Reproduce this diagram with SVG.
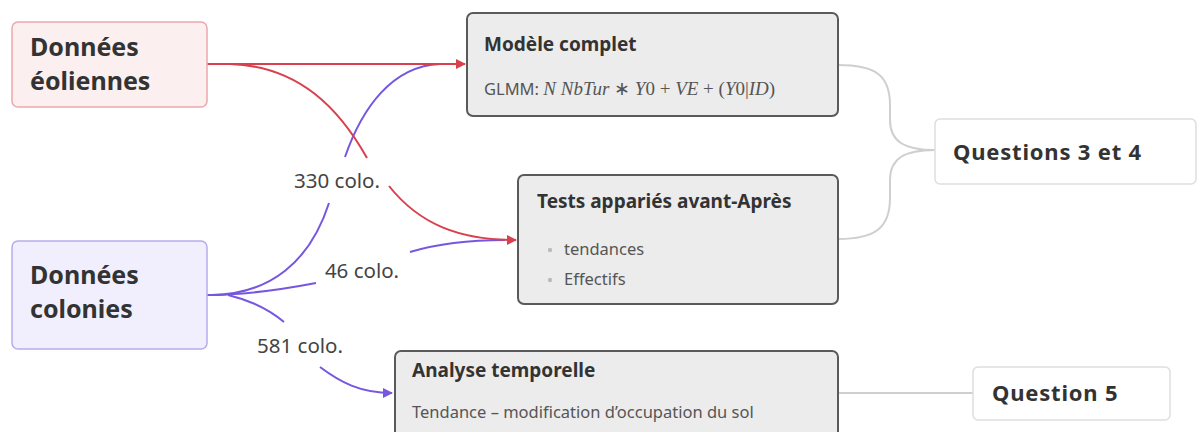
<svg xmlns="http://www.w3.org/2000/svg" width="1197" height="432" viewBox="0 0 1197 432">
<style>
.t{font-family:"Noto Sans","Open Sans",sans-serif;fill:#333}
.big{font-size:25px;font-weight:bold}
.ttl{font-size:19px;font-weight:bold}
.sub{font-size:16.5px;fill:#555}
.lbl{font-family:"Noto Sans","Open Sans",sans-serif;font-size:20.5px;fill:#444}
.m{font-family:"Liberation Serif",serif;font-size:19px;fill:#555}
.red{fill:none;stroke:#d9404e;stroke-width:2}
.pur{fill:none;stroke:#7657e0;stroke-width:2}
.gry{fill:none;stroke:#cfcfcf;stroke-width:2}
.proc{fill:#ececec;stroke:#5a5a5a;stroke-width:2}
.q{fill:#fff;stroke:#dedede;stroke-width:1.5}
.qt{font-size:22px;font-weight:bold;letter-spacing:0.8px}
</style>
<defs>
<marker id="ar" markerWidth="10" markerHeight="10" refX="9" refY="5" orient="auto" markerUnits="userSpaceOnUse"><path d="M0,0 L10,5 L0,10 z" fill="#d9404e"/></marker>
<marker id="ap" markerWidth="10" markerHeight="10" refX="9" refY="5" orient="auto" markerUnits="userSpaceOnUse"><path d="M0,0 L10,5 L0,10 z" fill="#7657e0"/></marker>
</defs>
<rect width="1197" height="432" fill="#fff"/>
<g id="connectors">
<path class="gry" d="M838,65 C875,65 890,75 890,105 L890,120 C890,142 905,150 935,150"/>
<path class="gry" d="M838,239 C875,239 890,228 890,198 L890,180 C890,158 905,150 935,150"/>
<path class="gry" d="M838,393 L973,393"/>
<path class="pur" d="M345,157 C362,108 392,66 440,64 L462,64"/>
<path class="pur" d="M329,203 C310,262 270,294 212,295"/>
<path class="pur" d="M207,295 C250,295 290,288 316,283"/>
<path class="pur" d="M410,252 C440,243 470,240 505,240"/>
<path class="pur" d="M228,295 C253,301 271,311 284,322"/>
<path class="pur" d="M320,367 C340,382 360,393 392,393" marker-end="url(#ap)"/>
<path class="red" d="M207,64 L465,64" marker-end="url(#ar)"/>
<path class="red" d="M230,64 C300,66 340,110 367,158"/>
<path class="red" d="M389,186 C420,225 460,240 516,240" marker-end="url(#ar)"/>
<text class="lbl" x="337" y="188" text-anchor="middle">330 colo.</text>
<text class="lbl" x="362" y="278" text-anchor="middle">46 colo.</text>
<text class="lbl" x="300" y="353" text-anchor="middle">581 colo.</text>
</g>
<g id="eoliennes">
<rect x="12" y="22" width="195" height="85" rx="6" fill="#fcefef" stroke="#eba8ae" stroke-width="1.5"/>
<text class="t big" x="30" y="56">Données</text>
<text class="t big" x="30" y="90">éoliennes</text>
</g>
<g id="colonies">
<rect x="12" y="241" width="195" height="108" rx="6" fill="#f1effd" stroke="#b7aceb" stroke-width="1.5"/>
<text class="t big" x="30" y="284">Données</text>
<text class="t big" x="30" y="318">colonies</text>
</g>
<g id="modele">
<rect class="proc" x="467" y="13" width="371" height="103" rx="6"/>
<text class="t ttl" x="484" y="51">Modèle complet</text>
<text x="484" y="95"><tspan class="t sub">GLMM: </tspan><tspan class="m" font-style="italic">N  NbTur</tspan><tspan class="m"> ∗ </tspan><tspan class="m" font-style="italic">Y</tspan><tspan class="m">0 + </tspan><tspan class="m" font-style="italic">VE</tspan><tspan class="m"> + (</tspan><tspan class="m" font-style="italic">Y</tspan><tspan class="m">0|</tspan><tspan class="m" font-style="italic">ID</tspan><tspan class="m">)</tspan></text>
</g>
<g id="tests">
<rect class="proc" x="518" y="175" width="320" height="129" rx="6"/>
<text class="t ttl" x="537" y="208">Tests appariés avant-Après</text>
<circle cx="550" cy="250" r="2.2" fill="#bbb"/>
<text class="t sub" x="564" y="255">tendances</text>
<circle cx="550" cy="280" r="2.2" fill="#bbb"/>
<text class="t sub" x="564" y="285">Effectifs</text>
</g>
<g id="analyse">
<rect class="proc" x="395" y="351" width="443" height="95" rx="6"/>
<text class="t ttl" x="412" y="377">Analyse temporelle</text>
<text class="t sub" x="412" y="418">Tendance – modification d’occupation du sol</text>
</g>
<g id="q34">
<rect class="q" x="935" y="119" width="261" height="65" rx="5"/>
<text class="t qt" x="953" y="160">Questions 3 et 4</text>
</g>
<g id="q5">
<rect class="q" x="973" y="367" width="197" height="53" rx="5"/>
<text class="t qt" x="992" y="401">Question 5</text>
</g>
</svg>
